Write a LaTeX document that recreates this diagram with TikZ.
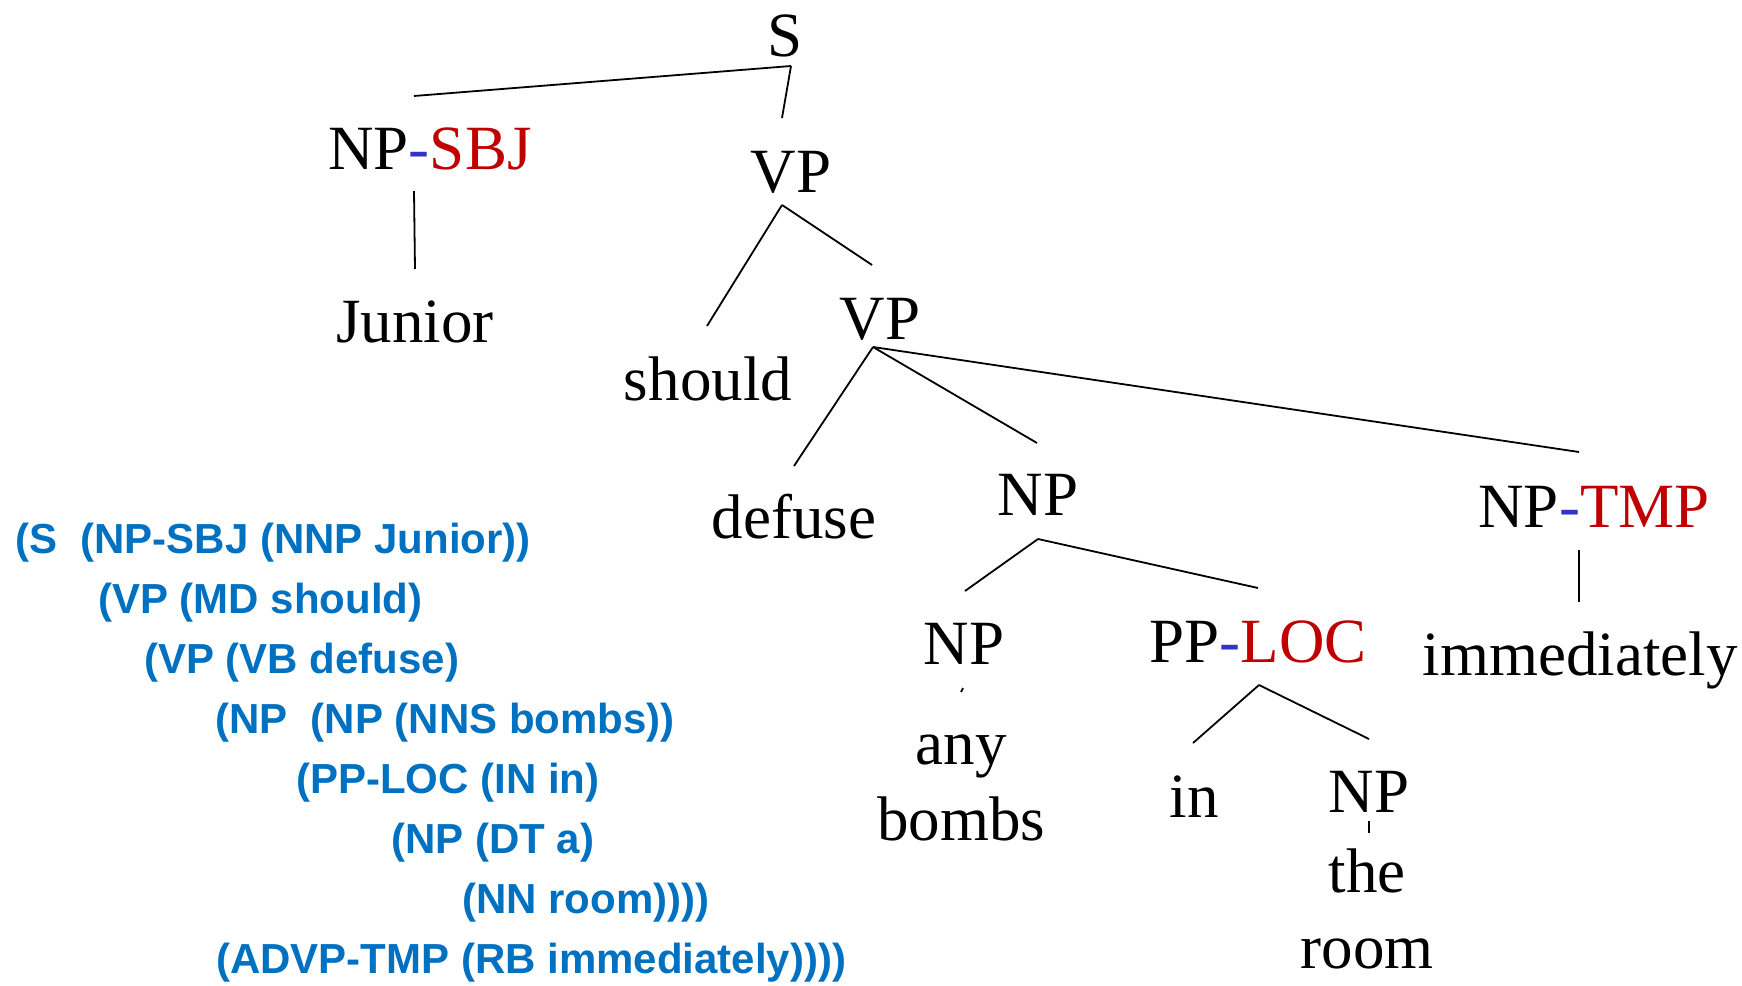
\documentclass[tikz,border=0pt]{standalone}
\usepackage{fontspec}
\setmainfont{Liberation Serif}
\newfontfamily\codefont{Liberation Sans}
\definecolor{codeblue}{RGB}{0,112,192}
\definecolor{tagred}{RGB}{192,0,0}
\definecolor{dashblue}{RGB}{51,51,204}
\begin{document}
\begin{tikzpicture}[x=1pt,y=-1pt,
  lab/.style={anchor=base,inner sep=0pt,font=\fontsize{63}{76}\selectfont},
  code/.style={anchor=base west,inner sep=0pt,font=\codefont\bfseries\fontsize{42}{50}\selectfont,text=codeblue},
  edge/.style={line width=1.8pt}]
\useasboundingbox (0,0) rectangle (1742,985);
% tree labels
\node[lab] (S) at (785,56) {S};
\node[lab] (NPSBJ) at (430,169) {NP\textcolor{dashblue}{-}\textcolor{tagred}{SBJ}};
\node[lab] (VP1) at (791,192) {VP};
\node[lab] (Junior) at (415,342) {Junior};
\node[lab] (should) at (708,400) {should};
\node[lab] (VP2) at (880,339) {VP};
\node[lab] (defuse) at (794,538) {defuse};
\node[lab] (NP1) at (1038,515) {NP};
\node[lab] (NPTMP) at (1594,527) {NP\textcolor{dashblue}{-}\textcolor{tagred}{TMP}};
\node[lab] (NP2) at (964,664) {NP};
\node[lab] (PPLOC) at (1258,662) {PP\textcolor{dashblue}{-}\textcolor{tagred}{LOC}};
\node[lab] (immed) at (1580,675) {immediately};
\node[lab,align=center] (anybombs) at (961,840) {any\\bombs};
\node[lab] (in) at (1194,817) {in};
\node[lab] (NP3) at (1369,812) {NP};
\node[lab,align=center] (theroom) at (1367,968) {the\\room};
% connector end points
\coordinate (S-b) at (791,66);
\coordinate (NPSBJ-t) at (414,96);
\coordinate (VP1-t) at (782,118);
\coordinate (NPSBJ-b) at (414,191);
\coordinate (Junior-t) at (415,269);
\coordinate (VP1-b) at (782,205);
\coordinate (should-t) at (707,326);
\coordinate (VP2-t) at (872,265);
\coordinate (VP2-b) at (873,347);
\coordinate (defuse-t) at (794,466);
\coordinate (NP1-t) at (1037,443);
\coordinate (NPTMP-t) at (1579,452);
\coordinate (NP1-b) at (1038,539);
\coordinate (NP2-t) at (965,591);
\coordinate (PPLOC-t) at (1258,588);
\coordinate (NP2-b) at (963,688);
\coordinate (anybombs-t) at (961,692);
\coordinate (PPLOC-b) at (1259,685);
\coordinate (in-t) at (1193,743);
\coordinate (NP3-t) at (1369,739);
\coordinate (NPTMP-b) at (1579,550);
\coordinate (immed-t) at (1579,602);
\coordinate (NP3-b) at (1369,821);
\coordinate (theroom-t) at (1369,833);
% connectors
\draw[edge] (S-b) -- (NPSBJ-t);
\draw[edge] (S-b) -- (VP1-t);
\draw[edge] (NPSBJ-b) -- (Junior-t);
\draw[edge] (VP1-b) -- (should-t);
\draw[edge] (VP1-b) -- (VP2-t);
\draw[edge] (VP2-b) -- (defuse-t);
\draw[edge] (VP2-b) -- (NP1-t);
\draw[edge] (VP2-b) -- (NPTMP-t);
\draw[edge] (NP1-b) -- (NP2-t);
\draw[edge] (NP1-b) -- (PPLOC-t);
\draw[edge] (NP2-b) -- (anybombs-t);
\draw[edge] (PPLOC-b) -- (in-t);
\draw[edge] (PPLOC-b) -- (NP3-t);
\draw[edge] (NPTMP-b) -- (immed-t);
\draw[edge] (NP3-b) -- (theroom-t);
% bracketed notation
\node[code] (c1) at (15,553) {(S\ \ (NP-SBJ (NNP Junior))};
\node[code] (c2) at (98,613) {(VP (MD should)};
\node[code] (c3) at (144,673) {(VP (VB defuse)};
\node[code] (c4) at (215,733) {(NP\ \ (NP (NNS bombs))};
\node[code] (c5) at (296,793) {(PP-LOC (IN in)};
\node[code] (c6) at (391,853) {(NP (DT a)};
\node[code] (c7) at (462,913) {(NN room))))};
\node[code] (c8) at (216,973) {(ADVP-TMP (RB immediately))))};
\end{tikzpicture}
\end{document}
